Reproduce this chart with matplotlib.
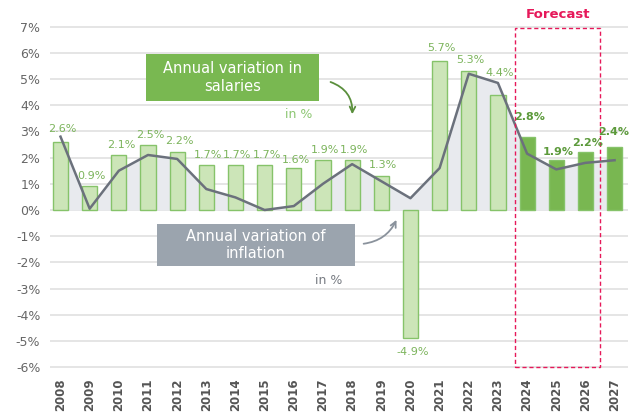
import numpy as np
import matplotlib.pyplot as plt
from matplotlib.patches import Rectangle

years = [str(y) for y in range(2008, 2028)]
salaries = [2.6, 0.9, 2.1, 2.5, 2.2, 1.7, 1.7, 1.7, 1.6, 1.9,
            1.9, 1.3, -4.9, 5.7, 5.3, 4.4, 2.8, 1.9, 2.2, 2.4]
inflation = [2.8, 0.05, 1.5, 2.1, 1.95, 0.8, 0.48, 0.0, 0.15, 1.0,
             1.75, 1.1, 0.45, 1.6, 5.2, 4.85, 2.15, 1.55, 1.8, 1.9]
forecast = [False] * 16 + [True] * 4
yticks = list(range(-6, 8))
# label lift above the bar top, in pixels
label_lift = [13, 10, 10, 10, 11, 10, 10, 10, 8, 10,
              10, 11, -14, 13, 11, 22, 20, 8, 9, 15]

x = np.arange(len(years))

fig = plt.figure(figsize=(6.3, 4.19), dpi=100)
ax = fig.add_axes([50 / 630, 0.1174, 578 / 630, 0.8222])
ax.set_xlim(-0.36, 19.46)
ax.set_ylim(-6.1, 7.05)

for t in yticks:
    ax.axhline(t, color='#e3e3e3', lw=1.3, zorder=0)

# inflation area + line
ax.fill_between(x, inflation, 0, color='#e8eaee', lw=0, zorder=1)

light = '#cce5b8'
dark = '#79b751'
cols = [dark if f else light for f in forecast]
ax.bar(x, salaries, width=0.52, color=cols, edgecolor='#86c36a', lw=1, zorder=2)

ax.plot(x, inflation, color='#6b717c', lw=1.8, zorder=3)

for i, v in enumerate(salaries):
    if forecast[i]:
        c, w = '#5c9a3b', 'bold'
    else:
        c, w = '#7cb45c', 'normal'
    dx = -1 if i == len(salaries) - 1 else 2
    ax.annotate(f'{v:.1f}%', (x[i], v), xytext=(dx, label_lift[i]),
                textcoords='offset pixels', ha='center', va='center',
                fontsize=8, color=c, fontweight=w, zorder=5)

# forecast box
ax.add_patch(Rectangle((15.6, -6.0), 2.9, 12.95, fill=False, ec='#e6195a',
                       ls=(0, (3, 2)), lw=1, zorder=4, clip_on=False))
ax.text(17.05, 7.45, 'Forecast', ha='center', va='center', fontsize=9.5,
        fontweight='bold', color='#e6195a')

# salary legend box
ax.add_patch(Rectangle((2.92, 4.17), 5.96, 1.77, color='#79b851', lw=0, zorder=4))
ax.text(5.9, 5.06, 'Annual variation in\nsalaries', ha='center', va='center',
        fontsize=10.5, color='white', linespacing=1.2, zorder=5)
ax.text(8.18, 3.63, 'in %', ha='center', va='center', fontsize=9, color='#8cc672')
ax.annotate('', xy=(10.0, 3.55), xytext=(9.17, 4.92),
            arrowprops=dict(arrowstyle='->', color='#5a8f3c', lw=1.3,
                            connectionstyle='arc3,rad=-0.4'))

# inflation legend box
ax.add_patch(Rectangle((3.30, -2.13), 6.8, 1.6, color='#9ba4ae', lw=0, zorder=4))
ax.text(6.7, -1.34, 'Annual variation of\ninflation', ha='center', va='center',
        fontsize=10.5, color='white', linespacing=1.2, zorder=5)
ax.text(9.19, -2.71, 'in %', ha='center', va='center', fontsize=9, color='#777b82')
ax.annotate('', xy=(11.56, -0.28), xytext=(10.3, -1.3),
            arrowprops=dict(arrowstyle='->', color='#8a929c', lw=1.3,
                            connectionstyle='arc3,rad=0.3'))

ax.set_yticks(yticks)
ax.set_yticklabels([f'{t}%' for t in yticks], fontsize=9, color='#666666')
ax.set_xticks(x)
ax.set_xticklabels(years, rotation=90, fontsize=8.5, fontweight='bold', color='#555555')
ax.tick_params(length=0, pad=6)
ax.tick_params(axis='y', pad=7)
for s in ax.spines.values():
    s.set_visible(False)

fig.savefig('out.png', dpi=100)
